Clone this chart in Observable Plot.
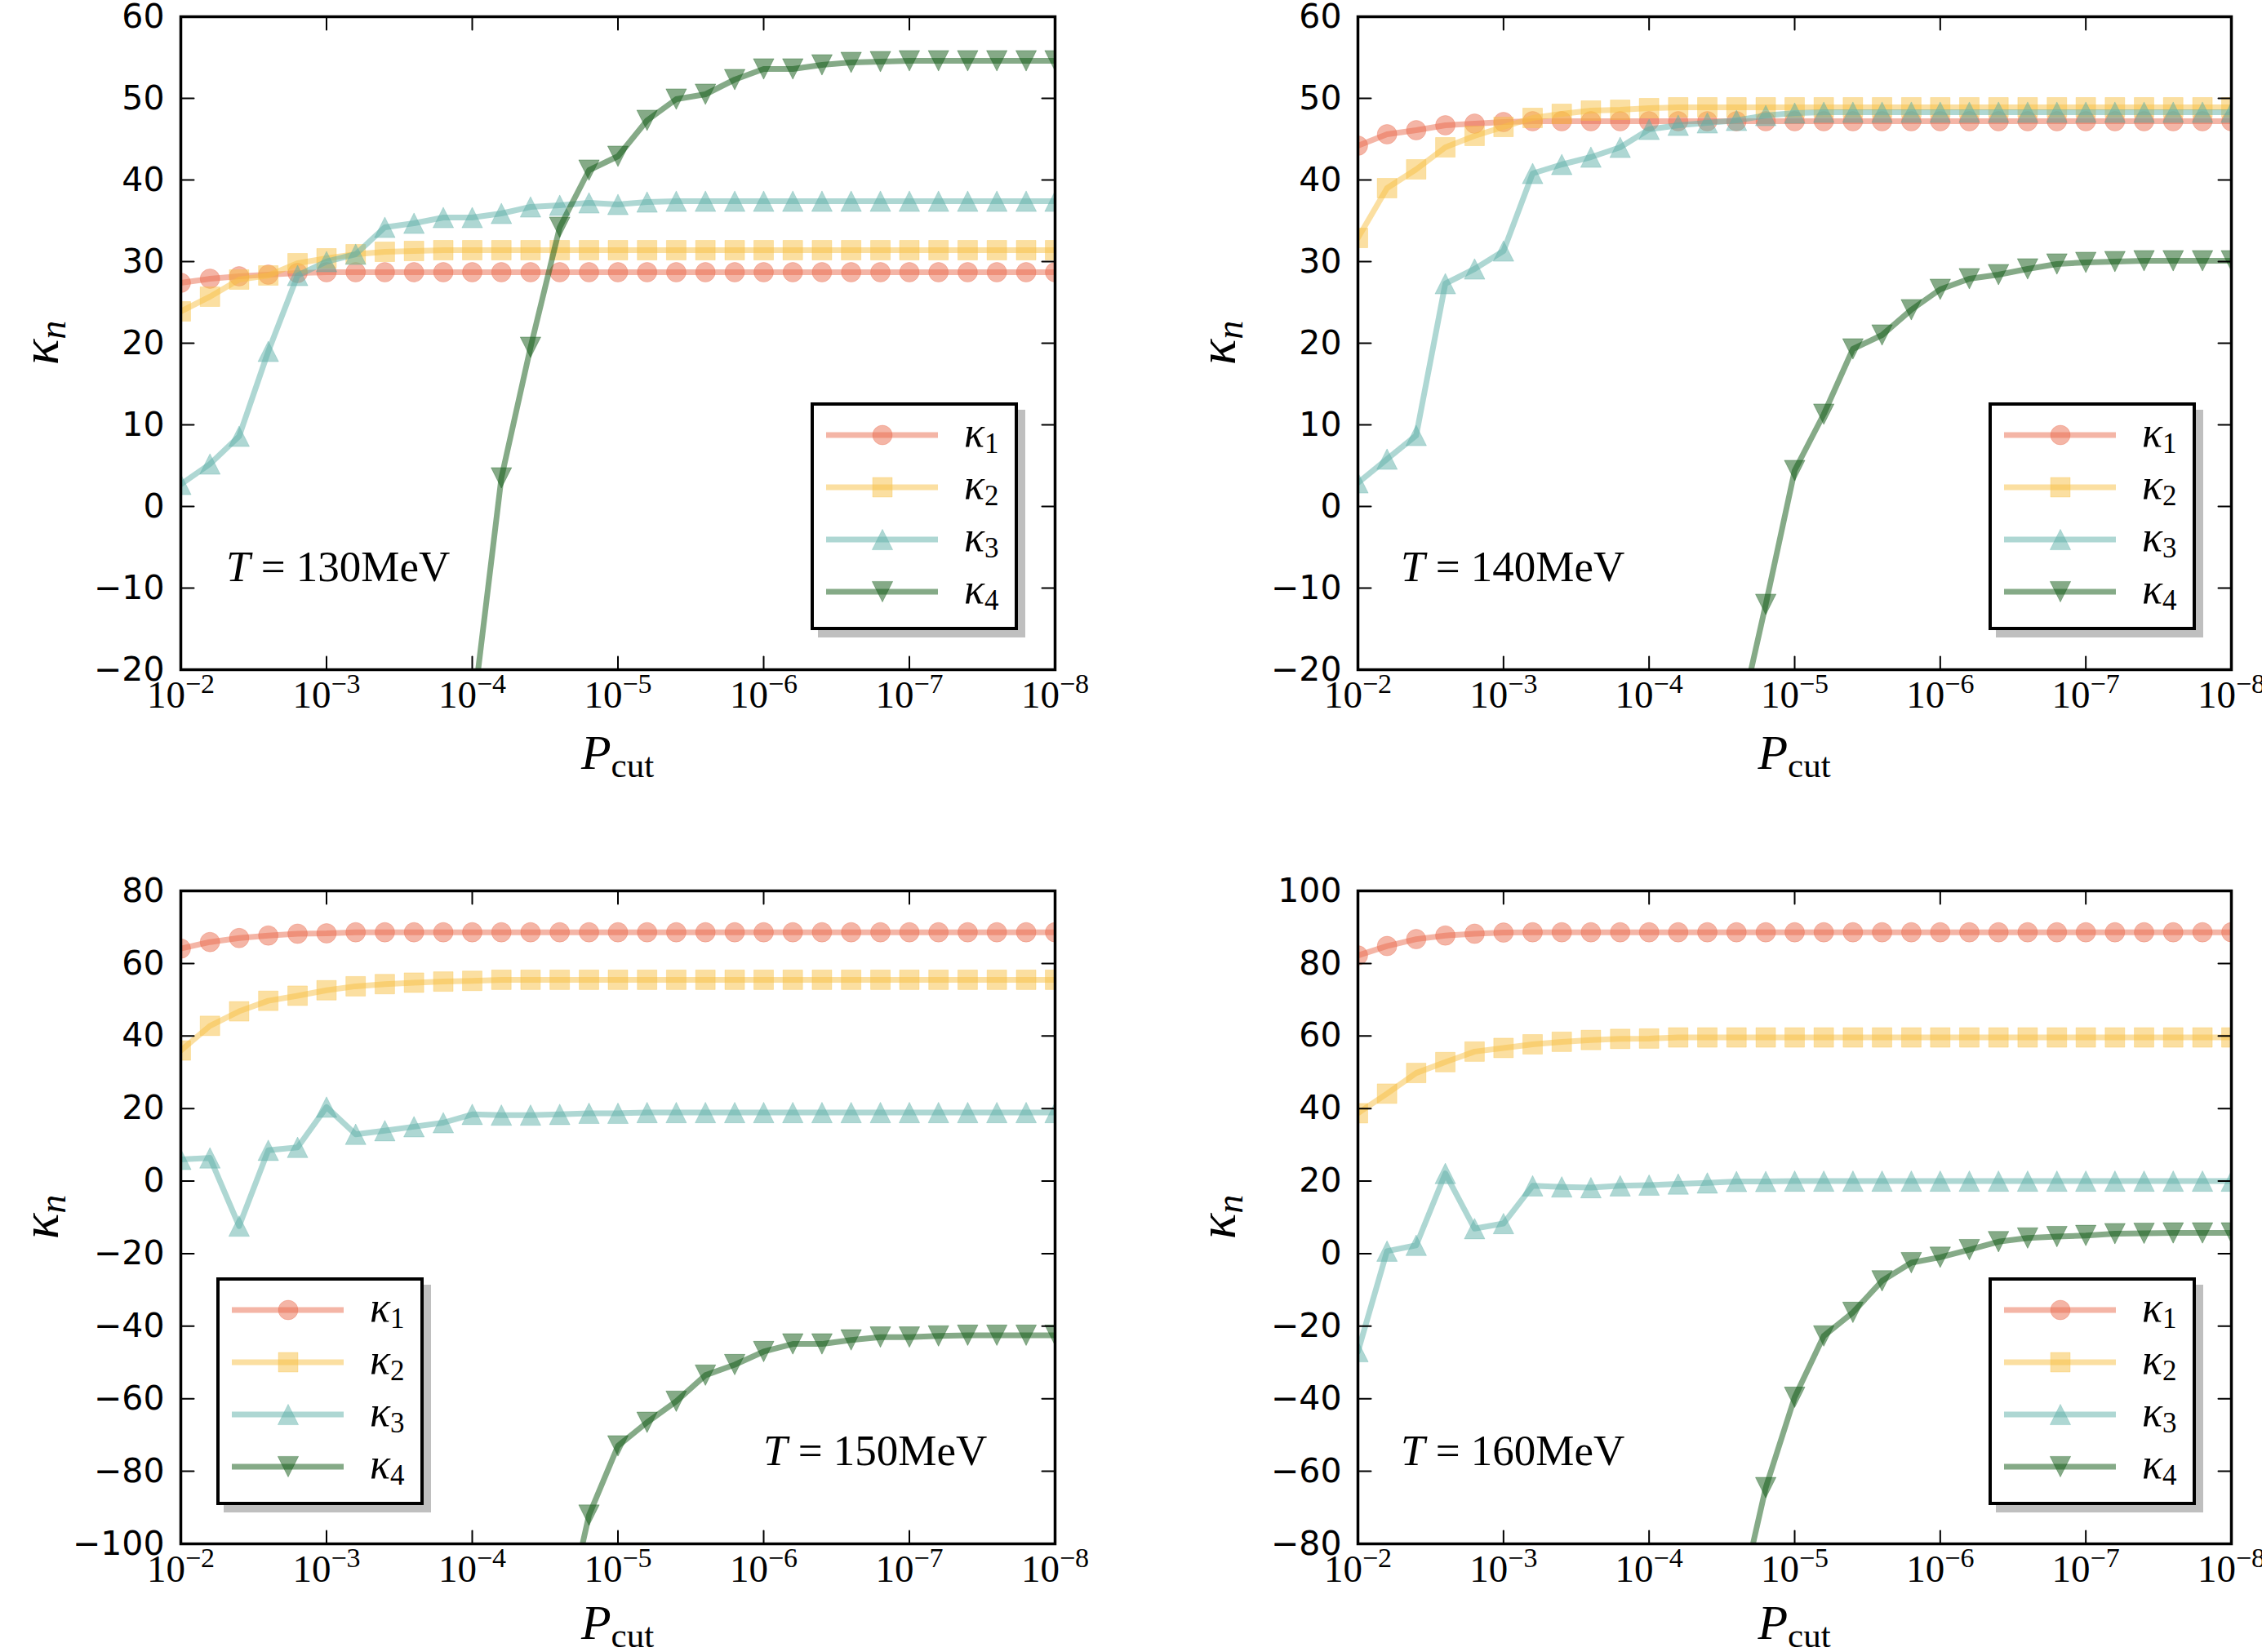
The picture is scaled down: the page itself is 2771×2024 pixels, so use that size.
<!DOCTYPE html>
<html><head><meta charset="utf-8">
<script src="https://cdn.jsdelivr.net/npm/d3@7"></script>
<script src="https://cdn.jsdelivr.net/npm/@observablehq/plot@0.6"></script>
<style>
html,body{margin:0;padding:0;background:#fff;overflow:hidden}
#fig{position:relative;width:2771px;height:2024px;background:#fff}
#fig > svg{position:absolute}
</style></head><body><div id="fig"></div>
<script>
// ---------------- data ----------------
const pcut = [1e-2, 6.31e-3, 3.98e-3, 2.51e-3, 1.58e-3,
  1e-3, 6.31e-4, 3.98e-4, 2.51e-4, 1.58e-4,
  1e-4, 6.31e-5, 3.98e-5, 2.51e-5, 1.58e-5,
  1e-5, 6.31e-6, 3.98e-6, 2.51e-6, 1.58e-6,
  1e-6, 6.31e-7, 3.98e-7, 2.51e-7, 1.58e-7,
  1e-7, 6.31e-8, 3.98e-8, 2.51e-8, 1.58e-8, 1e-8];
const xTicks = [1e-2, 1e-3, 1e-4, 1e-5, 1e-6, 1e-7, 1e-8];
const xTickLabels = ["10^−2", "10^−3", "10^−4", "10^−5", "10^−6", "10^−7", "10^−8"];
const seriesNames = ["1", "2", "3", "4"]; // subscripts of kappa
const temperatures = ["130", "140", "150", "160"];

const k1_130 = [27.4,27.9,28.2,28.4,28.6,28.7,28.7,28.7,28.7,28.7,28.7,28.7,28.7,28.7,28.7,28.7,28.7,28.7,28.7,28.7,28.7,28.7,28.7,28.7,28.7,28.7,28.7,28.7,28.7,28.7,28.7];
const k2_130 = [23.9,25.7,27.8,28.3,29.8,30.4,30.9,31.2,31.3,31.4,31.4,31.4,31.4,31.4,31.4,31.4,31.4,31.4,31.4,31.4,31.4,31.4,31.4,31.4,31.4,31.4,31.4,31.4,31.4,31.4,31.4];
const k3_130 = [2.7,5.2,8.6,19.0,28.3,30.0,30.9,34.2,34.7,35.4,35.4,35.9,36.7,36.9,37.2,37.0,37.3,37.4,37.4,37.4,37.4,37.4,37.4,37.4,37.4,37.4,37.4,37.4,37.4,37.4,37.4];
const k4_130 = [null,null,null,null,null,null,null,null,null,null,-26,3.5,19.5,34.2,41.2,42.9,47.3,49.9,50.5,52.3,53.6,53.6,54.1,54.4,54.5,54.6,54.6,54.6,54.6,54.6,54.6];

const k1_140 = [44.2,45.6,46.1,46.7,46.9,47.1,47.2,47.2,47.2,47.2,47.2,47.2,47.2,47.2,47.2,47.2,47.2,47.2,47.2,47.2,47.2,47.2,47.2,47.2,47.2,47.2,47.2,47.2,47.2,47.2,47.2];
const k2_140 = [32.9,39.0,41.3,44.0,45.4,46.5,47.6,48.1,48.5,48.6,48.8,48.9,48.9,48.9,48.9,48.9,48.9,48.9,48.9,48.9,48.9,48.9,48.9,48.9,48.9,48.9,48.9,48.9,48.9,48.9,48.9];
const k3_140 = [2.9,5.8,8.7,27.3,29.1,31.3,40.8,41.9,42.8,44.0,46.2,46.7,47.0,47.3,47.9,48.2,48.3,48.3,48.3,48.3,48.3,48.3,48.3,48.3,48.3,48.3,48.3,48.3,48.3,48.3,48.3];
const k4_140 = [null,null,null,null,null,null,null,null,null,null,null,null,null,-28,-12.0,4.4,11.3,19.3,21.0,24.1,26.6,27.9,28.4,29.1,29.7,29.9,30.0,30.1,30.1,30.1,30.1];

const k1_150 = [64.1,65.9,67.0,67.7,68.2,68.3,68.6,68.6,68.6,68.6,68.6,68.6,68.6,68.6,68.6,68.6,68.6,68.6,68.6,68.6,68.6,68.6,68.6,68.6,68.6,68.6,68.6,68.6,68.6,68.6,68.6];
const k2_150 = [36.0,42.8,46.8,49.7,51.1,52.6,53.7,54.3,54.7,55.0,55.2,55.5,55.5,55.5,55.5,55.5,55.5,55.5,55.5,55.5,55.5,55.5,55.5,55.5,55.5,55.5,55.5,55.5,55.5,55.5,55.5];
const k3_150 = [6.0,6.4,-12.4,8.5,9.3,20.4,12.9,13.9,15.0,16.1,18.4,18.2,18.2,18.4,18.7,18.7,18.9,18.9,18.9,18.9,18.9,18.9,18.9,18.9,18.9,18.9,18.9,18.9,18.9,18.9,18.9];
const k4_150 = [null,null,null,null,null,null,null,null,null,null,null,null,null,-128,-92.1,-73.0,-66.5,-60.7,-53.5,-50.6,-47.0,-44.9,-44.9,-43.8,-43.0,-43.0,-42.7,-42.5,-42.5,-42.5,-42.5];

const k1_160 = [82.2,84.8,86.7,87.7,88.2,88.5,88.6,88.6,88.6,88.6,88.6,88.6,88.6,88.6,88.6,88.6,88.6,88.6,88.6,88.6,88.6,88.6,88.6,88.6,88.6,88.6,88.6,88.6,88.6,88.6,88.6];
const k2_160 = [38.7,44.1,49.8,52.8,55.7,56.7,57.7,58.4,58.9,59.2,59.3,59.6,59.6,59.6,59.6,59.6,59.6,59.6,59.6,59.6,59.6,59.6,59.6,59.6,59.6,59.6,59.6,59.6,59.6,59.6,59.6];
const k3_160 = [-27.0,0.7,2.3,22.1,6.9,8.3,18.7,18.4,18.2,18.7,18.9,19.2,19.5,19.9,19.9,20.0,20.0,20.0,20.0,20.0,20.0,20.0,20.0,20.0,20.0,20.0,20.0,20.0,20.0,20.0,20.0];
const k4_160 = [null,null,null,null,null,null,null,null,null,null,null,null,null,-100,-64.5,-39.6,-22.7,-16.2,-7.5,-2.5,-1.0,1.1,3.3,4.3,4.7,5.0,5.5,5.6,5.7,5.7,5.7];

const yDomain_130 = [-20, 60], yTicks_130 = [-20,-10,0,10,20,30,40,50,60];
const yDomain_140 = [-20, 60], yTicks_140 = [-20,-10,0,10,20,30,40,50,60];
const yDomain_150 = [-100, 80], yTicks_150 = [-100,-80,-60,-40,-20,0,20,40,60,80];
const yDomain_160 = [-80, 100], yTicks_160 = [-80,-60,-40,-20,0,20,40,60,80,100];

// ---------------- styles / layout ----------------
const colors = ["#ea6b4d", "#f7c043", "#5eb0a8", "#0b560f"];
const serif = "'Liberation Serif', 'DejaVu Serif', serif";
const R = 12;
const LW = 7;

const symCircle = {draw(c, s){const r=Math.sqrt(s/Math.PI); c.moveTo(r,0); c.arc(0,0,r,0,2*Math.PI); c.closePath();}};
const symSquare = {draw(c, s){const r=Math.sqrt(s/Math.PI); c.rect(-r,-r,2*r,2*r);}};
const symUp = {draw(c, s){const r=Math.sqrt(s/Math.PI)*1.05; c.moveTo(0,-r); c.lineTo(r,r); c.lineTo(-r,r); c.closePath();}};
const symDown = {draw(c, s){const r=Math.sqrt(s/Math.PI)*1.05; c.moveTo(0,r); c.lineTo(r,-r); c.lineTo(-r,-r); c.closePath();}};
const symbols = [symCircle, symSquare, symUp, symDown];
const tickShape = {draw(c, l){c.moveTo(0,0); c.lineTo(0,-l);}};

const panels = [
  {T: temperatures[0], series: [k1_130,k2_130,k3_130,k4_130], yDomain: yDomain_130, yTicks: yTicks_130,
   svgLeft: 0, svgTop: 0, width: 1385, mL: 221, mR: 93, mT: 20, mB: 192, xlab: 122,
   legend: [993, 493], ann: [277, 712]},
  {T: temperatures[1], series: [k1_140,k2_140,k3_140,k4_140], yDomain: yDomain_140, yTicks: yTicks_140,
   svgLeft: 1385, svgTop: 0, width: 1386, mL: 278, mR: 38, mT: 20, mB: 192, xlab: 122,
   legend: [2436, 493], ann: [1716, 712]},
  {T: temperatures[2], series: [k1_150,k2_150,k3_150,k4_150], yDomain: yDomain_150, yTicks: yTicks_150,
   svgLeft: 0, svgTop: 1012, width: 1385, mL: 221, mR: 93, mT: 79, mB: 133, xlab: 117,
   legend: [265, 1565], ann: [935, 1795]},
  {T: temperatures[3], series: [k1_160,k2_160,k3_160,k4_160], yDomain: yDomain_160, yTicks: yTicks_160,
   svgLeft: 1385, svgTop: 1012, width: 1386, mL: 278, mR: 38, mT: 79, mB: 133, xlab: 117,
   legend: [2436, 1565], ann: [1716, 1795]}
];
const H = 1012;
const fig = document.getElementById("fig");
const fmtY = d => (d < 0 ? "−" : "") + Math.abs(d);

for (const p of panels) {
  const marks = [];
  p.series.forEach((vals, i) => {
    const data = pcut.map((x, j) => ({x, v: vals[j]})).filter(d => d.v != null);
    marks.push(Plot.line(data, {x: "x", y: "v", stroke: colors[i], strokeOpacity: 0.5, strokeWidth: LW, clip: true}));
    marks.push(Plot.dot(data, {x: "x", y: "v", symbol: symbols[i], r: R, fill: colors[i], fillOpacity: 0.5,
      stroke: colors[i], strokeOpacity: 0.3, strokeWidth: 1, clip: true}));
  });
  const tk = {shape: tickShape, length: 16, anchor: "start", stroke: "black", strokeWidth: 2};
  marks.push(
    Plot.vector(p.yTicks, {y: d => d, frameAnchor: "left", rotate: 90, ...tk}),
    Plot.vector(p.yTicks, {y: d => d, frameAnchor: "right", rotate: -90, ...tk}),
    Plot.vector(xTicks, {x: d => d, frameAnchor: "bottom", rotate: 0, ...tk}),
    Plot.vector(xTicks, {x: d => d, frameAnchor: "top", rotate: 180, ...tk}),
    Plot.axisY({ticks: p.yTicks, tickSize: 0, tickPadding: 20, tickFormat: fmtY, label: null, fontSize: 41}),
    Plot.axisX({ticks: xTicks, tickSize: 0, tickPadding: 13, label: null,
      tickFormat: d => xTickLabels[xTicks.indexOf(d)], fontSize: 47, fontFamily: serif}),
    Plot.frame({stroke: "black", strokeWidth: 3.5})
  );
  const svg = Plot.plot({
    width: p.width, height: H,
    marginLeft: p.mL, marginRight: p.mR, marginTop: p.mT, marginBottom: p.mB,
    x: {type: "log", domain: [1e-2, 1e-8]},
    y: {domain: p.yDomain},
    style: {fontFamily: "'DejaVu Sans', sans-serif", fontSize: "41px", background: "transparent", maxWidth: "none", overflow: "visible"},
    marks
  });
  svg.style.left = p.svgLeft + "px";
  svg.style.top = p.svgTop + "px";
  // superscript exponents in x tick labels
  d3.select(svg).selectAll('g[aria-label="x-axis tick label"] text').each(function() {
    const parts = this.textContent.split("^");
    if (parts.length !== 2) return;
    const t = d3.select(this);
    t.text(null).style("font-family", serif).style("font-size", "47px");
    t.append("tspan").text(parts[0]);
    t.append("tspan").attr("dy", -18).attr("font-size", 34).text(parts[1]);
  });
  fig.appendChild(svg);
}

// ---------------- overlay: axis labels, annotations, legends ----------------
const ov = d3.create("svg").attr("width", 2771).attr("height", 2024)
  .style("left", "0px").style("top", "0px").style("pointer-events", "none");
for (const p of panels) {
  const ox = p.svgLeft + p.mL, oy = p.svgTop + p.mT;
  const w = p.width - p.mL - p.mR, h = H - p.mT - p.mB;
  // y label
  const yl = ov.append("text").attr("transform", `translate(${ox - 150},${oy + h / 2}) rotate(-90)`)
    .attr("text-anchor", "middle").attr("font-family", serif).attr("font-size", 66);
  yl.append("tspan").attr("font-style", "italic").text("κ");
  yl.append("tspan").attr("font-style", "italic").attr("font-size", 46).attr("dy", 9).text("n");
  // x label
  const xl = ov.append("text").attr("x", ox + w / 2).attr("y", oy + h + p.xlab)
    .attr("text-anchor", "middle").attr("font-family", serif).attr("font-size", 60);
  xl.append("tspan").attr("font-style", "italic").text("P");
  xl.append("tspan").attr("font-size", 43).attr("dy", 10).text("cut");
  // annotation
  const an = ov.append("text").attr("x", p.ann[0]).attr("y", p.ann[1])
    .attr("font-family", serif).attr("font-size", 53);
  an.append("tspan").attr("font-style", "italic").text("T");
  an.append("tspan").text(" = " + p.T + "MeV");
  // legend
  const [lx, ly] = p.legend;
  ov.append("rect").attr("x", lx + 9).attr("y", ly + 9).attr("width", 254).attr("height", 279).attr("fill", "#bfbfbf");
  ov.append("rect").attr("x", lx + 2).attr("y", ly + 2).attr("width", 250).attr("height", 275)
    .attr("fill", "white").attr("stroke", "black").attr("stroke-width", 4);
  seriesNames.forEach((nm, i) => {
    const cy = ly + 40 + 64 * i;
    ov.append("line").attr("x1", lx + 19).attr("x2", lx + 156).attr("y1", cy).attr("y2", cy)
      .attr("stroke", colors[i]).attr("stroke-opacity", 0.5).attr("stroke-width", LW);
    ov.append("path").attr("d", d3.symbol(symbols[i], Math.PI * R * R)())
      .attr("transform", `translate(${lx + 88},${cy})`)
      .attr("fill", colors[i]).attr("fill-opacity", 0.5)
      .attr("stroke", colors[i]).attr("stroke-opacity", 0.3).attr("stroke-width", 1);
    const t = ov.append("text").attr("x", lx + 188).attr("y", cy + 14)
      .attr("font-family", serif).attr("font-size", 52);
    t.append("tspan").attr("font-style", "italic").text("κ");
    t.append("tspan").attr("font-size", 35).attr("dy", 8).text(nm);
  });
}
fig.appendChild(ov.node());
</script></body></html>
